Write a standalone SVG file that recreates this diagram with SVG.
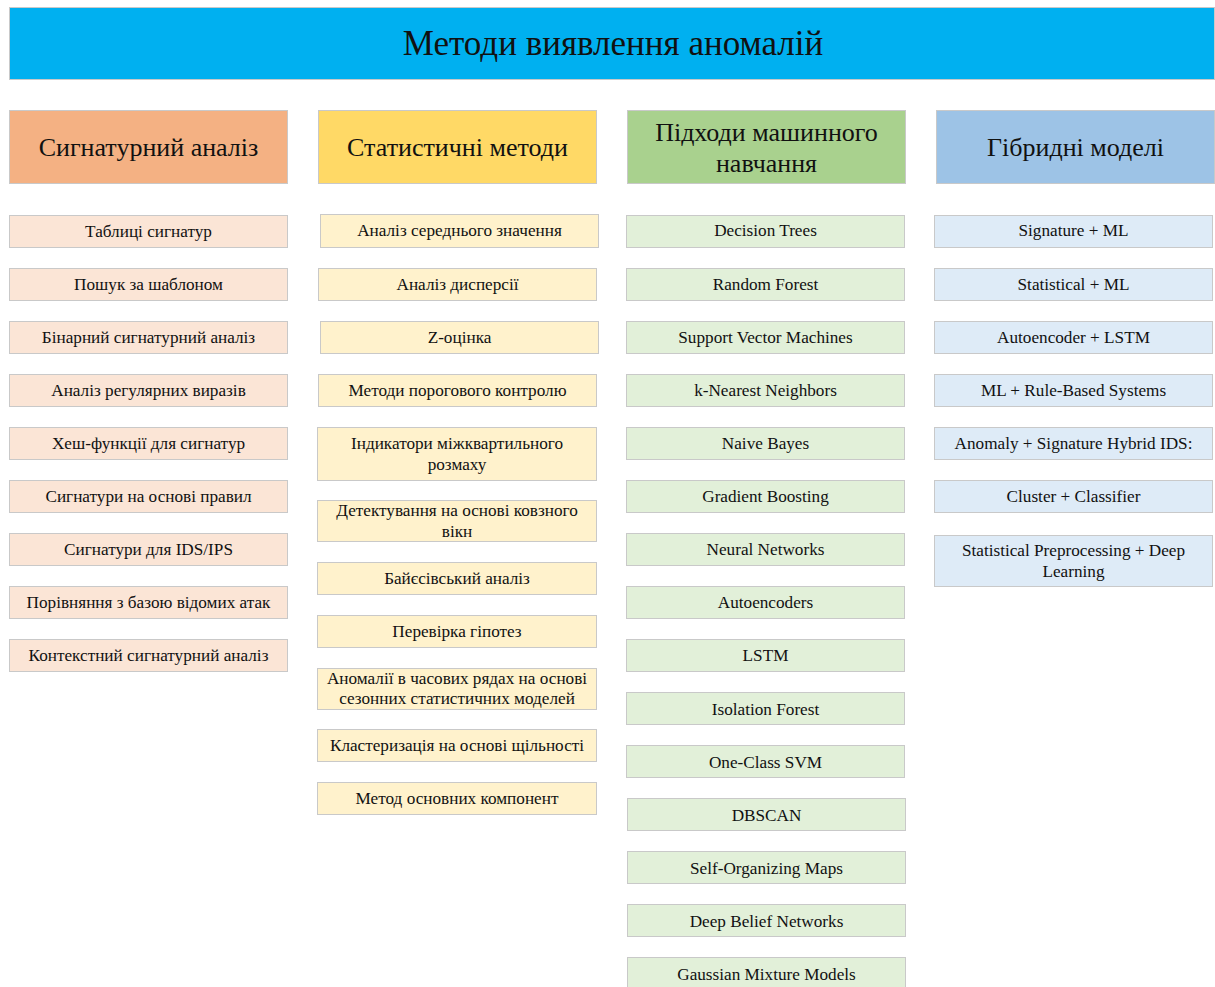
<svg xmlns="http://www.w3.org/2000/svg" width="1215" height="987" viewBox="0 0 1215 987">
<style>
text{font-family:"Liberation Serif","Times New Roman",serif;fill:#111;text-anchor:middle}
rect{stroke:#c9c9c9;stroke-width:1}
rect.bg{stroke:none;fill:#fff}
.t{font-size:35px}
.h{font-size:26px}
.i{font-size:17.2px}
.c1h{fill:#F4B183}.c2h{fill:#FFD966}.c3h{fill:#A9D18E}.c4h{fill:#9DC3E6}
.c1{fill:#FBE5D6}.c2{fill:#FFF2CC}.c3{fill:#E2F0D9}.c4{fill:#DEEBF7}
</style>
<rect class="bg" width="1215" height="987"/>
<g id="title"><rect x="9.5" y="7.5" width="1205" height="72" fill="#00B0F0"/><text class="t" x="613" y="55">Методи виявлення аномалій</text></g>
<g id="h1"><rect class="c1h" x="9.5" y="110.5" width="278" height="73"/><text class="h" x="148.5" y="156">Сигнатурний аналіз</text></g>
<g id="h2"><rect class="c2h" x="318.5" y="110.5" width="278" height="73"/><text class="h" x="457.5" y="156">Статистичні методи</text></g>
<g id="h3"><rect class="c3h" x="627.5" y="110.5" width="278" height="73"/><text class="h" x="766.5" y="141">Підходи машинного</text><text class="h" x="766.5" y="172">навчання</text></g>
<g id="h4"><rect class="c4h" x="936.5" y="110.5" width="278" height="73"/><text class="h" x="1075.5" y="156">Гібридні моделі</text></g>

<g id="s1"><rect class="c1" x="9.5" y="215.5" width="278" height="32"/><text class="i" x="148.5" y="237">Таблиці сигнатур</text></g>
<g id="s2"><rect class="c1" x="9.5" y="268.5" width="278" height="32"/><text class="i" x="148.5" y="290">Пошук за шаблоном</text></g>
<g id="s3"><rect class="c1" x="9.5" y="321.5" width="278" height="32"/><text class="i" x="148.5" y="343">Бінарний сигнатурний аналіз</text></g>
<g id="s4"><rect class="c1" x="9.5" y="374.5" width="278" height="32"/><text class="i" x="148.5" y="396">Аналіз регулярних виразів</text></g>
<g id="s5"><rect class="c1" x="9.5" y="427.5" width="278" height="32"/><text class="i" x="148.5" y="449">Хеш-функції для сигнатур</text></g>
<g id="s6"><rect class="c1" x="9.5" y="480.5" width="278" height="32"/><text class="i" x="148.5" y="502">Сигнатури на основі правил</text></g>
<g id="s7"><rect class="c1" x="9.5" y="533.5" width="278" height="32"/><text class="i" x="148.5" y="555">Сигнатури для IDS/IPS</text></g>
<g id="s8"><rect class="c1" x="9.5" y="586.5" width="278" height="32"/><text class="i" x="148.5" y="608">Порівняння з базою відомих атак</text></g>
<g id="s9"><rect class="c1" x="9.5" y="639.5" width="278" height="32"/><text class="i" x="148.5" y="661">Контекстний сигнатурний аналіз</text></g>

<g id="t1"><rect class="c2" x="320.5" y="214.5" width="278" height="33"/><text class="i" x="459.5" y="236">Аналіз середнього значення</text></g>
<g id="t2"><rect class="c2" x="318.5" y="268.5" width="278" height="32"/><text class="i" x="457.5" y="290">Аналіз дисперсії</text></g>
<g id="t3"><rect class="c2" x="320.5" y="321.5" width="278" height="32"/><text class="i" x="459.5" y="343">Z-оцінка</text></g>
<g id="t4"><rect class="c2" x="318.5" y="374.5" width="278" height="32"/><text class="i" x="457.5" y="396">Методи порогового контролю</text></g>
<g id="t5"><rect class="c2" x="317.5" y="427.5" width="279" height="53"/><text class="i" x="457" y="449">Індикатори міжквартильного</text><text class="i" x="457" y="470">розмаху</text></g>
<g id="t6"><rect class="c2" x="317.5" y="500.5" width="279" height="41"/><text class="i" x="457" y="516">Детектування на основі ковзного</text><text class="i" x="457" y="537">вікн</text></g>
<g id="t7"><rect class="c2" x="317.5" y="562.5" width="279" height="32"/><text class="i" x="457" y="584">Байєсівський аналіз</text></g>
<g id="t8"><rect class="c2" x="317.5" y="615.5" width="279" height="32"/><text class="i" x="457" y="637">Перевірка гіпотез</text></g>
<g id="t9"><rect class="c2" x="317.5" y="668.5" width="279" height="41"/><text class="i" x="457" y="684">Аномалії в часових рядах на основі</text><text class="i" x="457" y="704">сезонних статистичних моделей</text></g>
<g id="t10"><rect class="c2" x="317.5" y="729.5" width="279" height="32"/><text class="i" x="457" y="751">Кластеризація на основі щільності</text></g>
<g id="t11"><rect class="c2" x="317.5" y="782.5" width="279" height="32"/><text class="i" x="457" y="804">Метод основних компонент</text></g>

<g id="m1"><rect class="c3" x="626.5" y="215.5" width="278" height="32"/><text class="i" x="765.5" y="236">Decision Trees</text></g>
<g id="m2"><rect class="c3" x="626.5" y="268.5" width="278" height="32"/><text class="i" x="765.5" y="290">Random Forest</text></g>
<g id="m3"><rect class="c3" x="626.5" y="321.5" width="278" height="32"/><text class="i" x="765.5" y="343">Support Vector Machines</text></g>
<g id="m4"><rect class="c3" x="626.5" y="374.5" width="278" height="32"/><text class="i" x="765.5" y="396">k-Nearest Neighbors</text></g>
<g id="m5"><rect class="c3" x="626.5" y="427.5" width="278" height="32"/><text class="i" x="765.5" y="449">Naive Bayes</text></g>
<g id="m6"><rect class="c3" x="626.5" y="480.5" width="278" height="32"/><text class="i" x="765.5" y="502">Gradient Boosting</text></g>
<g id="m7"><rect class="c3" x="626.5" y="533.5" width="278" height="32"/><text class="i" x="765.5" y="555">Neural Networks</text></g>
<g id="m8"><rect class="c3" x="626.5" y="586.5" width="278" height="32"/><text class="i" x="765.5" y="608">Autoencoders</text></g>
<g id="m9"><rect class="c3" x="626.5" y="639.5" width="278" height="32"/><text class="i" x="765.5" y="661">LSTM</text></g>
<g id="m10"><rect class="c3" x="626.5" y="692.5" width="278" height="32"/><text class="i" x="765.5" y="715">Isolation Forest</text></g>
<g id="m11"><rect class="c3" x="626.5" y="745.5" width="278" height="32"/><text class="i" x="765.5" y="768">One-Class SVM</text></g>
<g id="m12"><rect class="c3" x="627.5" y="798.5" width="278" height="32"/><text class="i" x="766.5" y="821">DBSCAN</text></g>
<g id="m13"><rect class="c3" x="627.5" y="851.5" width="278" height="32"/><text class="i" x="766.5" y="874">Self-Organizing Maps</text></g>
<g id="m14"><rect class="c3" x="627.5" y="904.5" width="278" height="32"/><text class="i" x="766.5" y="927">Deep Belief Networks</text></g>
<g id="m15"><rect class="c3" x="627.5" y="957.5" width="278" height="32"/><text class="i" x="766.5" y="980">Gaussian Mixture Models</text></g>

<g id="g1"><rect class="c4" x="934.5" y="215.5" width="278" height="32"/><text class="i" x="1073.5" y="236">Signature + ML</text></g>
<g id="g2"><rect class="c4" x="934.5" y="268.5" width="278" height="32"/><text class="i" x="1073.5" y="290">Statistical + ML</text></g>
<g id="g3"><rect class="c4" x="934.5" y="321.5" width="278" height="32"/><text class="i" x="1073.5" y="343">Autoencoder + LSTM</text></g>
<g id="g4"><rect class="c4" x="934.5" y="374.5" width="278" height="32"/><text class="i" x="1073.5" y="396">ML + Rule-Based Systems</text></g>
<g id="g5"><rect class="c4" x="934.5" y="427.5" width="278" height="32"/><text class="i" x="1073.5" y="449">Anomaly + Signature Hybrid IDS:</text></g>
<g id="g6"><rect class="c4" x="934.5" y="480.5" width="278" height="32"/><text class="i" x="1073.5" y="502">Cluster + Classifier</text></g>
<g id="g7"><rect class="c4" x="934.5" y="535.5" width="278" height="51"/><text class="i" x="1073.5" y="556">Statistical Preprocessing + Deep</text><text class="i" x="1073.5" y="577">Learning</text></g>
<g id="connectors"></g>
</svg>
